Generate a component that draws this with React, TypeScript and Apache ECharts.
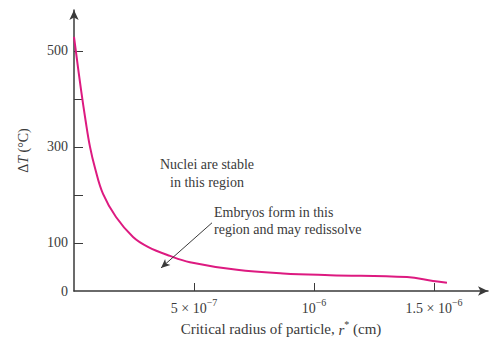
import React, { useEffect, useRef } from "react";
import * as echarts from "echarts";

// Critical radius r* (cm) vs undercooling ΔT (°C)
const radius: number[] = [0, 0.0292e-6, 0.0479e-6, 0.0667e-6, 0.0875e-6, 0.121e-6, 0.175e-6, 0.246e-6, 0.308e-6, 0.4e-6, 0.483e-6, 0.679e-6, 0.871e-6, 1.067e-6, 1.3875e-6, 1.496e-6, 1.554e-6];
const deltaT: number[] = [529, 419, 356, 300, 256, 202, 154, 112.5, 92, 73, 60, 44, 36.5, 33, 29, 21, 17];

const yTicks: number[] = [100, 200, 300, 400, 500];
const yLabels: number[] = [0, 100, 300, 500];
const xTicks: number[] = [5e-7, 1e-6, 1.5e-6];
const xLabelText: string[] = ["{b|5 × 10}{s|−7}", "{b|10}{s|−6}", "{b|1.5 × 10}{s|−6}"];

// arrow annotation (data coords): from label to curve
const arrowFrom: number[] = [0.575e-6, 142];
const arrowTo: number[] = [0.3625e-6, 48];

const FONT = "'Liberation Serif', 'Times New Roman', serif";
const INK = "#3a3a3a";

export default function App() {
  const ref = useRef<HTMLDivElement>(null);
  useEffect(() => {
    if (!ref.current) return;
    const chart = echarts.init(ref.current, undefined, { renderer: "svg" });
    const data = radius.map((r, i) => [r, deltaT[i]]);
    chart.setOption({
      animation: false,
      backgroundColor: "#ffffff",
      grid: { left: 74, right: 5, top: 10, bottom: 47, containLabel: false, outerBoundsMode: "none" },
      xAxis: {
        type: "value",
        min: 0,
        max: 1.725e-6,
        interval: 5e-7,
        splitLine: { show: false },
        axisLine: {
          lineStyle: { color: INK, width: 1.5 },
          symbol: ["none", "arrow"],
          symbolSize: [7, 10],
        },
        axisTick: {
          inside: true,
          length: 8,
          customValues: xTicks,
          lineStyle: { color: INK, width: 1 },
        },
        axisLabel: {
          customValues: xTicks,
          margin: 6,
          formatter: (v: number) => {
            const i = xTicks.findIndex((t) => Math.abs(t - v) < 1e-9);
            return i >= 0 ? xLabelText[i] : "";
          },
          rich: {
            b: { fontFamily: FONT, fontSize: 14, color: INK, lineHeight: 18, verticalAlign: "bottom" },
            s: { fontFamily: FONT, fontSize: 10, color: INK, lineHeight: 18, verticalAlign: "top" },
          },
        },
        name: "Critical radius of particle, {i|r}{s|*} (cm)",
        nameLocation: "middle",
        nameGap: 25,
        nameTextStyle: {
          fontFamily: FONT,
          fontSize: 15,
          color: INK,
          rich: {
            i: { fontFamily: FONT, fontSize: 15, fontStyle: "italic", color: INK, lineHeight: 18, verticalAlign: "bottom" },
            s: { fontFamily: FONT, fontSize: 10, color: INK, lineHeight: 18, verticalAlign: "top" },
          },
        },
      },
      yAxis: {
        type: "value",
        min: 0,
        max: 585,
        interval: 100,
        splitLine: { show: false },
        axisLine: {
          lineStyle: { color: INK, width: 1.5 },
          symbol: ["none", "arrow"],
          symbolSize: [7, 10],
        },
        axisTick: {
          inside: true,
          length: 9,
          customValues: yTicks,
          lineStyle: { color: INK, width: 1 },
        },
        axisLabel: {
          customValues: yLabels,
          margin: 6,
          fontFamily: FONT,
          fontSize: 14,
          color: INK,
        },
        name: "{d|Δ}{i|T} {d|(°C)}",
        nameLocation: "middle",
        nameGap: 44,
        nameRotate: 90,
        nameTextStyle: {
          fontFamily: FONT,
          fontSize: 14,
          color: INK,
          rich: {
            d: { fontFamily: FONT, fontSize: 14, color: INK },
            i: { fontFamily: FONT, fontSize: 14, fontStyle: "italic", color: INK },
          },
        },
      },
      series: [
        {
          type: "line",
          data,
          smooth: 0.4,
          symbol: "none",
          lineStyle: { color: "#dd1a80", width: 2 },
          markLine: {
            silent: true,
            symbol: ["none", "arrow"],
            symbolSize: [6, 9],
            label: { show: false },
            lineStyle: { color: INK, width: 1, type: "solid" },
            data: [[{ coord: arrowFrom }, { coord: arrowTo }]],
          },
        },
      ],
      graphic: [
        {
          type: "text",
          x: 207,
          y: 173,
          style: {
            text: "Nuclei are stable\nin this region",
            fontFamily: FONT,
            fontSize: 14,
            lineHeight: 18,
            fill: INK,
            align: "center",
            verticalAlign: "middle",
          },
        },
        {
          type: "text",
          x: 214,
          y: 221,
          style: {
            text: "Embryos form in this\nregion and may redissolve",
            fontFamily: FONT,
            fontSize: 14,
            lineHeight: 17,
            fill: INK,
            align: "left",
            verticalAlign: "middle",
          },
        },
      ],
    });
    return () => chart.dispose();
  }, []);
  return <div ref={ref} style={{ position: "fixed", left: 0, top: 0, width: 493, height: 338 }} />;
}
